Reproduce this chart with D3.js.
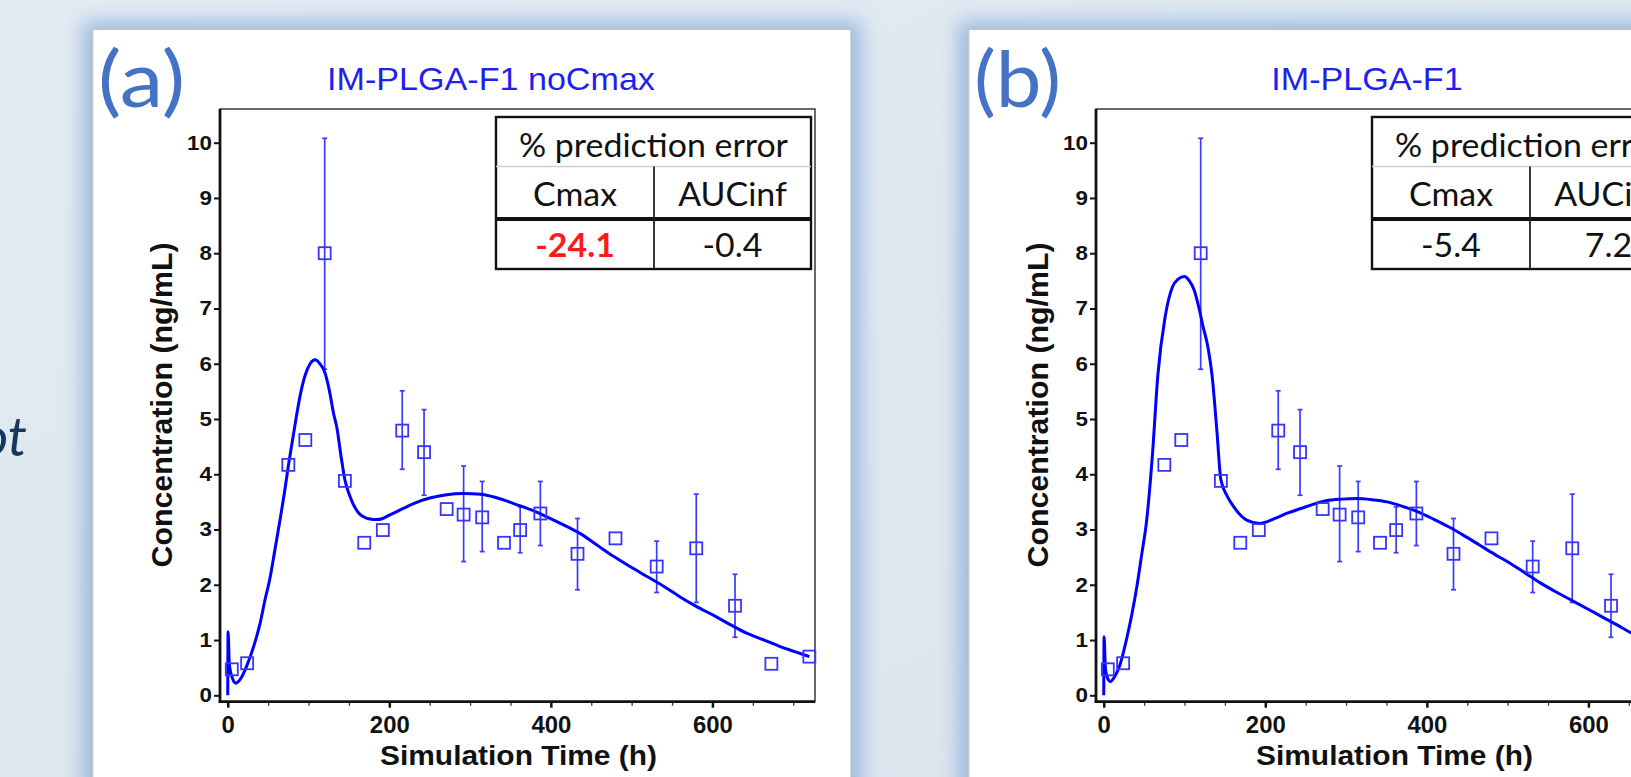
<!DOCTYPE html>
<html>
<head>
<meta charset="utf-8">
<title>IM-PLGA-F1 simulations</title>
<script src="https://cdn.jsdelivr.net/npm/d3@7"></script>
<style>
    html, body { margin: 0; padding: 0; background: #dde7ef; overflow: hidden; }
    svg { display: block; }
</style>
</head>
<body>
<div id="chart"></div>
<script>
// Observed concentrations (same study data in both panels)
const obsTime = [5, 24, 75, 96, 120, 145, 169, 192, 216, 243, 271, 292, 315, 342, 362, 387, 433, 480, 531, 580, 628, 673, 720];
const obsConc = [0.47, 0.58, 4.17, 4.62, 8.0, 3.88, 2.76, 2.99, 4.79, 4.40, 3.37, 3.27, 3.22, 2.76, 2.99, 3.29, 2.56, 2.84, 2.33, 2.66, 1.62, 0.57, 0.70];
const obsLow = [null, null, null, null, 5.9, null, null, null, 4.09, 3.62, null, 2.42, 2.60, null, 2.58, 2.71, 1.91, null, 1.86, 1.68, 1.05, null, null];
const obsHigh = [null, null, null, null, 10.08, null, null, null, 5.51, 5.17, null, 4.15, 3.87, null, 3.41, 3.87, 3.20, null, 2.79, 3.64, 2.19, null, null];

// Simulated profile, panel (a): IM-PLGA-F1 noCmax
const simTimeA = [0, 0.4, 2, 6, 10, 16, 24, 32, 40, 46, 52, 58, 65, 70, 75, 80, 85, 90, 96, 102, 108, 114, 120, 126, 131, 135, 140, 145, 150, 155, 162, 168, 176, 184, 192, 200, 210, 230, 250, 271, 292, 313, 334, 354, 375, 395, 415, 436, 457, 478, 498, 519, 540, 560, 580, 601, 622, 643, 664, 684, 702, 720];
const simConcA = [0, 1.15, 0.55, 0.3, 0.22, 0.3, 0.55, 0.88, 1.3, 1.72, 2.1, 2.6, 3.2, 3.65, 4.15, 4.6, 5.05, 5.45, 5.8, 6.0, 6.07, 6.0, 5.85, 5.5, 5.1, 4.85, 4.35, 3.9, 3.65, 3.47, 3.3, 3.23, 3.19, 3.18, 3.2, 3.26, 3.33, 3.47, 3.57, 3.63, 3.65, 3.64, 3.57, 3.47, 3.36, 3.23, 3.09, 2.93, 2.72, 2.51, 2.33, 2.15, 1.97, 1.78, 1.61, 1.45, 1.28, 1.12, 1.0, 0.88, 0.79, 0.70];

// Simulated profile, panel (b): IM-PLGA-F1
const simTimeB = [0, 0.4, 2, 5, 8, 14, 20, 28, 35, 41, 47, 53, 60, 67, 76, 85, 92, 100, 106, 112, 118, 123, 129, 134, 140, 145, 153, 161, 170, 177, 193, 212, 228, 244, 260, 275, 295, 313, 332, 351, 370, 389, 408, 427, 446, 465, 484, 503, 522, 541, 560, 579, 598, 617, 636, 654, 690, 720];
const simConcB = [0, 1.06, 0.5, 0.3, 0.25, 0.35, 0.55, 1.0, 1.48, 1.97, 2.55, 3.15, 4.3, 5.8, 6.85, 7.39, 7.53, 7.58, 7.5, 7.33, 7.0, 6.67, 6.3, 5.8, 4.8, 3.9, 3.6, 3.41, 3.25, 3.17, 3.11, 3.2, 3.3, 3.38, 3.46, 3.52, 3.55, 3.56, 3.54, 3.5, 3.42, 3.32, 3.19, 3.05, 2.89, 2.72, 2.55, 2.39, 2.21, 2.03, 1.87, 1.72, 1.57, 1.42, 1.27, 1.12, 0.88, 0.70];

// Axis ticks
const yTicks = [0, 1, 2, 3, 4, 5, 6, 7, 8, 9, 10];
const xTicks = [0, 200, 400, 600];
const xMinorTicks = [0, 50, 100, 150, 200, 250, 300, 350, 400, 450, 500, 550, 600, 650, 700];

// Prediction error tables
const tableTitle = "% prediction error";
const tableColumns = ["Cmax", "AUCinf"];
const predErrorA = ["-24.1", "-0.4"];
const predErrorB = ["-5.4", "7.2"];
const flaggedA = [true, false];
const flaggedB = [false, false];

const panelLabels = ["(a)", "(b)"];
const panelTitles = ["IM-PLGA-F1 noCmax", "IM-PLGA-F1"];

const panels = panelLabels.map((label, i) => ({
    label,
    title: panelTitles[i],
    simTime: i === 0 ? simTimeA : simTimeB,
    simConc: i === 0 ? simConcA : simConcB,
    errors: i === 0 ? predErrorA : predErrorB,
    flagged: i === 0 ? flaggedA : flaggedB
}));

const observed = obsTime.map((t, i) => ({ t, c: obsConc[i], lo: obsLow[i], hi: obsHigh[i] }));

const W = 1631, H = 777;
const PANEL_STEP = 876;
const ARIAL = "'Liberation Sans', Arial, sans-serif";
const CALIBRI = "Lato, 'Open Sans', sans-serif";
const BLUE = "#0000ff";

const svg = d3.select("#chart")
    .append("svg")
    .attr("width", W)
    .attr("height", H);

const defs = svg.append("defs");
defs.append("filter")
    .attr("id", "shadow")
    .attr("x", "-10%").attr("y", "-10%")
    .attr("width", "120%").attr("height", "120%")
    .append("feGaussianBlur")
    .attr("stdDeviation", 10);

const bgGrad = defs.append("linearGradient")
    .attr("id", "bg")
    .attr("x1", 0).attr("y1", 0).attr("x2", 1).attr("y2", 1);
bgGrad.append("stop").attr("offset", "0%").attr("stop-color", "#e3ebf2");
bgGrad.append("stop").attr("offset", "100%").attr("stop-color", "#d9e4ee");

svg.append("rect")
    .attr("width", W)
    .attr("height", H)
    .attr("fill", "url(#bg)");

// bit of the slide text peeking in at the left edge
svg.append("text")
    .attr("x", 27)
    .attr("y", 456)
    .attr("text-anchor", "end")
    .attr("font-family", CALIBRI)
    .attr("font-style", "italic")
    .attr("font-size", 54)
    .attr("fill", "#17375e")
    .text("ot");

/**
 * Horizontally stretches text elements around their anchor point.
 */
function stretchX(sel, s) {
    sel.each(function () {
        const t = d3.select(this);
        const x = +t.attr("x") || 0;
        const y = +t.attr("y") || 0;
        t.attr("transform", `translate(${x},${y}) scale(${s},1) translate(${-x},${-y})`);
    });
}

/**
 * Draws one slide panel with its chart and table.
 */
function drawPanel(p, i) {
    const dx = i * PANEL_STEP;
    const left = dx + 92.6, top = 29.3, width = 758.4;

    // soft blue shadow around the white card
    svg.append("rect")
        .attr("x", left - 10).attr("y", top - 8)
        .attr("width", width + 20).attr("height", H)
        .attr("fill", "#94b4dc")
        .attr("opacity", 0.9)
        .attr("filter", "url(#shadow)");

    svg.append("rect")
        .attr("x", left).attr("y", top)
        .attr("width", width).attr("height", H)
        .attr("fill", "#ffffff")
        .attr("stroke", "#c4c4c4")
        .attr("stroke-width", 1.5);

    const g = svg.append("g");

    g.append("text")
        .attr("x", dx + 98)
        .attr("y", 107)
        .attr("font-family", CALIBRI)
        .attr("font-size", 78)
        .attr("fill", "#4472c4")
        .attr("textLength", 87)
        .attr("lengthAdjust", "spacingAndGlyphs")
        .text(p.label);

    const titleEl = g.append("text")
        .attr("x", dx + 491)
        .attr("y", 90)
        .attr("text-anchor", "middle")
        .attr("font-family", ARIAL)
        .attr("font-size", 32)
        .attr("fill", "#1f1ff0")
        .text(p.title);
    stretchX(titleEl, 1.066);

    const x = d3.scaleLinear().domain([-9.6, 727]).range([dx + 220, dx + 815]);
    const y = d3.scaleLinear().domain([-0.116, 10.61]).range([701.7, 109]);

    // plot frame (top and right edges)
    g.append("rect")
        .attr("x", x.range()[0]).attr("y", y.range()[1])
        .attr("width", x.range()[1] - x.range()[0])
        .attr("height", y.range()[0] - y.range()[1])
        .attr("fill", "none")
        .attr("stroke", "#2a2a2a")
        .attr("stroke-width", 1.4);

    // y axis
    const yAxis = g.append("g")
        .attr("transform", `translate(${x.range()[0]},0)`)
        .call(d3.axisLeft(y).tickValues(yTicks).tickSize(6).tickPadding(2));
    yAxis.select(".domain").remove();
    yAxis.selectAll("line").attr("stroke", "#111").attr("stroke-width", 2);
    yAxis.selectAll("text")
        .attr("font-family", ARIAL)
        .attr("font-weight", "bold")
        .attr("font-size", 20)
        .attr("fill", "#111");
    stretchX(yAxis.selectAll("text"), 1.12);

    // x axis: minor ticks then labelled majors
    const xMinor = g.append("g")
        .attr("transform", `translate(0,${y.range()[0]})`)
        .call(d3.axisBottom(x).tickValues(xMinorTicks).tickSize(4).tickFormat(""));
    xMinor.select(".domain").remove();
    xMinor.selectAll("line").attr("stroke", "#333").attr("stroke-width", 1.3);

    const xAxis = g.append("g")
        .attr("transform", `translate(0,${y.range()[0]})`)
        .call(d3.axisBottom(x).tickValues(xTicks).tickSize(6).tickPadding(9));
    xAxis.select(".domain").remove();
    xAxis.selectAll("line").attr("stroke", "#111").attr("stroke-width", 2.5);
    xAxis.selectAll("text")
        .attr("font-family", ARIAL)
        .attr("font-weight", "bold")
        .attr("font-size", 23)
        .attr("fill", "#111");
    stretchX(xAxis.selectAll("text"), 1.04);

    // thick axis lines
    g.append("line")
        .attr("x1", x.range()[0]).attr("x2", x.range()[0])
        .attr("y1", y.range()[1]).attr("y2", y.range()[0] + 1.2)
        .attr("stroke", "#111").attr("stroke-width", 2.8);
    g.append("line")
        .attr("x1", x.range()[0] - 1.2).attr("x2", x.range()[1])
        .attr("y1", y.range()[0]).attr("y2", y.range()[0])
        .attr("stroke", "#111").attr("stroke-width", 2.8);

    g.append("text")
        .attr("x", dx + 518.5)
        .attr("y", 765)
        .attr("text-anchor", "middle")
        .attr("font-family", ARIAL)
        .attr("font-weight", "bold")
        .attr("font-size", 28)
        .attr("fill", "#111")
        .attr("textLength", 277)
        .attr("lengthAdjust", "spacingAndGlyphs")
        .text("Simulation Time (h)");

    g.append("text")
        .attr("transform", `translate(${dx + 172},405) rotate(-90)`)
        .attr("text-anchor", "middle")
        .attr("font-family", ARIAL)
        .attr("font-weight", "bold")
        .attr("font-size", 30)
        .attr("fill", "#111")
        .attr("textLength", 325)
        .attr("lengthAdjust", "spacingAndGlyphs")
        .text("Concentration (ng/mL)");

    // error bars
    const bars = g.append("g")
        .attr("stroke", "#3b3bff")
        .attr("stroke-width", 1.7)
        .selectAll("g")
        .data(observed.filter(d => d.lo !== null))
        .enter()
        .append("g");
    bars.append("line")
        .attr("x1", d => x(d.t)).attr("x2", d => x(d.t))
        .attr("y1", d => y(d.lo)).attr("y2", d => y(d.hi));
    bars.append("line")
        .attr("x1", d => x(d.t) - 2.5).attr("x2", d => x(d.t) + 2.5)
        .attr("y1", d => y(d.hi)).attr("y2", d => y(d.hi));
    bars.append("line")
        .attr("x1", d => x(d.t) - 2.5).attr("x2", d => x(d.t) + 2.5)
        .attr("y1", d => y(d.lo)).attr("y2", d => y(d.lo));

    // simulated curve
    const sim = p.simTime.map((t, k) => [t, p.simConc[k]]);
    const line = d3.line()
        .x(d => x(d[0]))
        .y(d => y(d[1]))
        .curve(d3.curveMonotoneX);
    g.append("path")
        .datum(sim)
        .attr("d", line)
        .attr("fill", "none")
        .attr("stroke", BLUE)
        .attr("stroke-width", 3)
        .attr("stroke-linejoin", "round");

    // observed markers (open squares)
    g.append("g")
        .selectAll("rect")
        .data(observed)
        .enter()
        .append("rect")
        .attr("x", d => x(d.t) - 6)
        .attr("y", d => y(d.c) - 6)
        .attr("width", 12)
        .attr("height", 12)
        .attr("fill", "none")
        .attr("stroke", "#3535ff")
        .attr("stroke-width", 1.8);

    drawTable(g, dx, p);
}

/**
 * Draws the % prediction error table in the top right of a chart.
 */
function drawTable(g, dx, p) {
    const L = dx + 496, R = dx + 811, M = dx + 654;
    const rowY = [117, 166.5, 219, 269];

    g.append("rect")
        .attr("x", L).attr("y", rowY[0])
        .attr("width", R - L).attr("height", rowY[3] - rowY[0])
        .attr("fill", "#fff")
        .attr("stroke", "#111")
        .attr("stroke-width", 2.4);
    g.append("line")
        .attr("x1", L).attr("x2", R)
        .attr("y1", rowY[1]).attr("y2", rowY[1])
        .attr("stroke", "#cfcfcf").attr("stroke-width", 1.6);
    g.append("line")
        .attr("x1", L).attr("x2", R)
        .attr("y1", rowY[2]).attr("y2", rowY[2])
        .attr("stroke", "#111").attr("stroke-width", 4.2);
    g.append("line")
        .attr("x1", M).attr("x2", M)
        .attr("y1", rowY[1]).attr("y2", rowY[3])
        .attr("stroke", "#222").attr("stroke-width", 1.8);

    const cellText = (txt, cx, by, opts = {}) => {
        const t = g.append("text")
            .attr("x", cx)
            .attr("y", by)
            .attr("text-anchor", "middle")
            .attr("font-family", CALIBRI)
            .attr("font-size", 32)
            .attr("font-weight", opts.bold ? "bold" : "normal")
            .attr("fill", opts.color || "#111")
            .text(txt);
        stretchX(t, 1.06);
        return t;
    };

    cellText(tableTitle, (L + R) / 2, 157);
    tableColumns.forEach((c, k) => cellText(c, k === 0 ? (L + M) / 2 : (M + R) / 2, 206));
    p.errors.forEach((v, k) => cellText(v, k === 0 ? (L + M) / 2 : (M + R) / 2, 257.5, {
        bold: p.flagged[k],
        color: p.flagged[k] ? "#ff1a1a" : "#111"
    }));
}

panels.forEach(drawPanel);
</script>
</body>
</html>
